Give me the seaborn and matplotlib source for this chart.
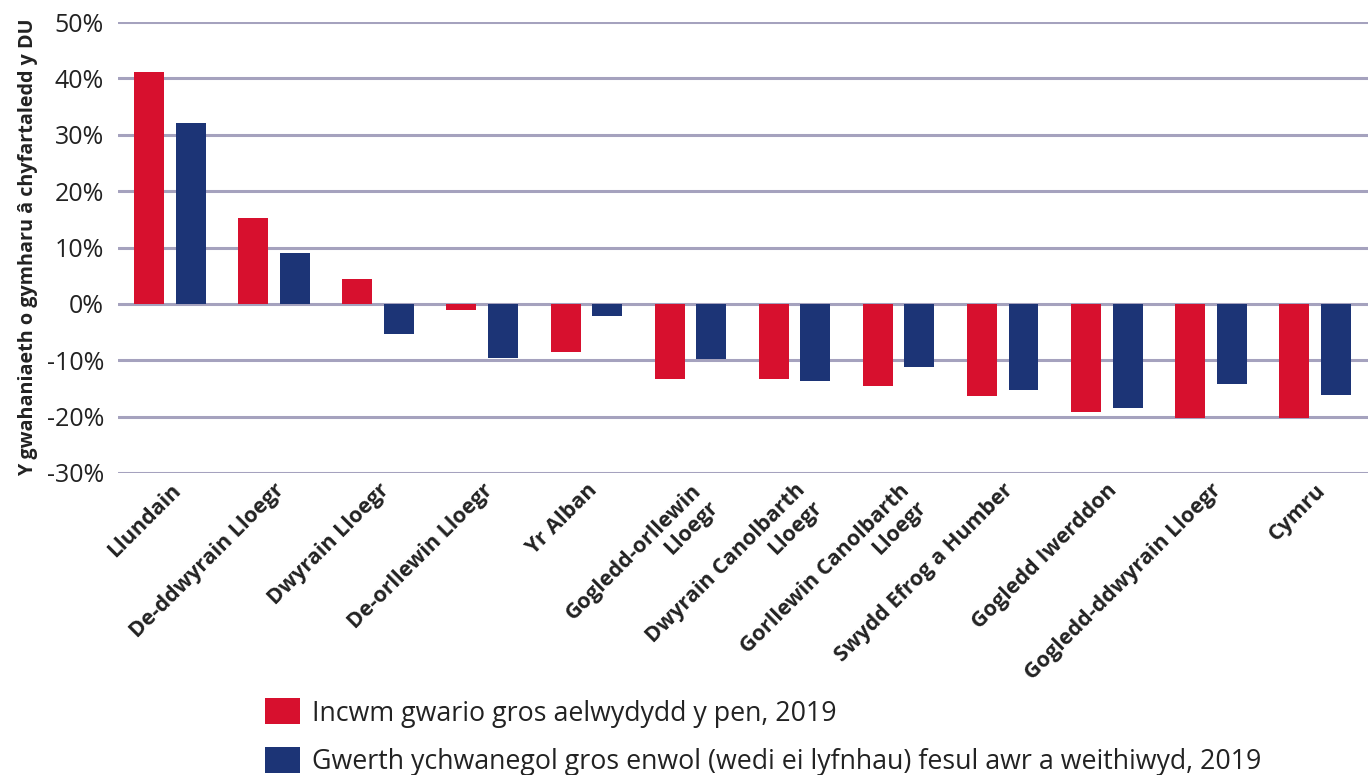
import numpy as np
import pandas as pd
import matplotlib
matplotlib.use("Agg")
import matplotlib.pyplot as plt
from matplotlib.patches import Patch
import seaborn as sns

# Rhanbarthau a gwerthoedd (% o gymharu â chyfartaledd y DU)
rhanbarthau = ["Llundain", "De-ddwyrain Lloegr", "Dwyrain Lloegr", "De-orllewin Lloegr",
               "Yr Alban", "Gogledd-orllewin\nLloegr", "Dwyrain Canolbarth\nLloegr",
               "Gorllewin Canolbarth\nLloegr", "Swydd Efrog a Humber", "Gogledd Iwerddon",
               "Gogledd-ddwyrain Lloegr", "Cymru"]
incwm = [41.2, 15.3, 4.4, -1.1, -8.5, -13.3, -13.3, -14.6, -16.3, -19.2, -20.2, -20.2]
gwerth = [32.0, 9.1, -5.3, -9.6, -2.1, -9.8, -13.7, -11.2, -15.3, -18.5, -14.2, -16.2]
cyfres = ["Incwm gwario gros aelwydydd y pen, 2019",
          "Gwerth ychwanegol gros enwol (wedi ei lyfnhau) fesul awr a weithiwyd, 2019"]
lliwiau = ["#D7102E", "#1C3476"]

df = pd.DataFrame({
    "rhanbarth": rhanbarthau * 2,
    "gwerth": incwm + gwerth,
    "cyfres": [cyfres[0]] * len(rhanbarthau) + [cyfres[1]] * len(rhanbarthau),
})

sns.set_style("white")
plt.rcParams['font.family'] = ['Open Sans', 'DejaVu Sans']

fig = plt.figure(figsize=(13.68, 7.75), dpi=100)
ax = fig.add_axes([118 / 1368, 1 - 473 / 775, 1 - 118 / 1368, (473 - 22) / 775])

sns.barplot(data=df, x="rhanbarth", y="gwerth", hue="cyfres", palette=lliwiau,
            width=0.8, gap=0.28, saturation=1, linewidth=0, ax=ax, legend=False)

ax.set_ylim(-30, 50)
ax.set_xlim(-0.5, 11.51)
ax.set_yticks(np.arange(-30, 51, 10))
ax.set_yticklabels([f"{v}%" for v in range(-30, 51, 10)], fontsize=18, color="#222222")
ax.yaxis.grid(True, color="#A5A2BE", linewidth=2.2)
ax.set_axisbelow(True)
for s in ax.spines.values():
    s.set_visible(False)
ax.tick_params(axis="both", length=0)
ax.tick_params(axis="y", pad=10)
ax.set_xlabel("")
ax.set_ylabel("Y gwahaniaeth o gymharu â chyfartaledd y DU", fontsize=14.2,
              fontweight="bold", color="#222222", labelpad=6)

ax.set_xticks(range(len(rhanbarthau)))
ax.set_xticklabels(rhanbarthau, rotation=45, ha="right", va="top",
                   rotation_mode="anchor", fontsize=15.5, fontweight="bold", color="#222222")
ax.tick_params(axis="x", pad=5)

handles = [Patch(facecolor=c, edgecolor="none") for c in lliwiau]
fig.legend(handles, cyfres, loc="upper left", bbox_to_anchor=(0.176, 0.13),
           frameon=False, fontsize=19.3, handlelength=1.3, handleheight=1.12,
           handletextpad=0.45, labelspacing=0.72, labelcolor="#222222")

fig.savefig("out.png", dpi=100)
